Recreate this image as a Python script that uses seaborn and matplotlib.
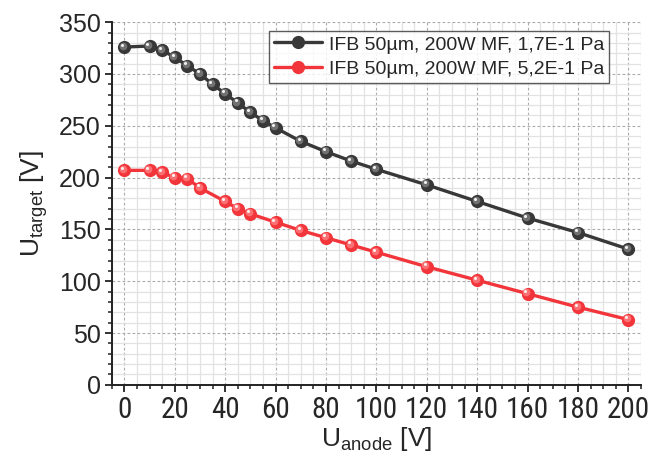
import numpy as np
import pandas as pd
import matplotlib
matplotlib.use("Agg")
import matplotlib.pyplot as plt
import matplotlib.transforms as mtransforms
from matplotlib import font_manager
from matplotlib.ticker import MultipleLocator
import seaborn as sns

# data
u_anode_a = [0, 10, 15, 20, 25, 30, 35, 40, 45, 50, 55, 60, 70, 80, 90, 100, 120, 140, 160, 180, 200]
u_target_a = [326, 327, 323, 316, 308, 300, 290, 281, 272, 263, 255, 248, 235, 225, 216, 208, 193, 177, 161, 147, 131]
u_anode_b = [0, 10, 15, 20, 25, 30, 40, 45, 50, 60, 70, 80, 90, 100, 120, 140, 160, 180, 200]
u_target_b = [207, 207, 205, 200, 199, 190, 177, 170, 165, 157, 149, 142, 135, 128, 114, 101, 88, 75, 63]
labels = ["IFB 50µm, 200W MF, 1,7E-1 Pa", "IFB 50µm, 200W MF, 5,2E-1 Pa"]
colors = ["#383838", "#f2353a"]
light = ["#8a8a8a", "#ff8a8c"]

sns.set_style("white")
plt.rcParams["font.family"] = ["Liberation Sans", "DejaVu Sans"]
plt.rcParams["mathtext.fontset"] = "custom"
plt.rcParams["mathtext.rm"] = "Liberation Sans"

# look for a narrow face for the x tick labels (Liberation Sans Narrow first)
names = sorted({f.name for f in font_manager.fontManager.ttflist})
narrow = None
for cand in ["Liberation Sans Narrow", "Roboto Condensed", "Open Sans Condensed"]:
    if cand in names:
        narrow = cand
        break
if narrow is None:
    for n in names:
        if "Narrow" in n or "Condensed" in n:
            narrow = n
            break

fig = plt.figure(figsize=(6.5, 4.62), dpi=100)
ax = fig.add_axes([0.172, 0.167, 0.814, 0.785])

series = [(u_anode_a, u_target_a), (u_anode_b, u_target_b)]
for (xs, ys), lab, c, lc in zip(series, labels, colors, light):
    df = pd.DataFrame({"x": xs, "y": ys})
    sns.lineplot(data=df, x="x", y="y", ax=ax, color=c, lw=2.4, marker="o",
                 markersize=9.5, markeredgewidth=0, label=lab, zorder=3)
    # fake sphere shading
    off1 = mtransforms.offset_copy(ax.transData, fig=fig, x=-1.0, y=1.0, units="points")
    ax.plot(xs, ys, ls="none", marker="o", ms=5.5, mew=0, color=lc, alpha=0.7,
            transform=off1, zorder=4)
    off2 = mtransforms.offset_copy(ax.transData, fig=fig, x=-1.6, y=1.8, units="points")
    ax.plot(xs, ys, ls="none", marker="o", ms=2.2, mew=0, color="white", alpha=0.9,
            transform=off2, zorder=5)

ax.set_xlim(-5, 205)
ax.set_ylim(0, 350)
ax.xaxis.set_major_locator(MultipleLocator(20))
ax.xaxis.set_minor_locator(MultipleLocator(5))
ax.yaxis.set_major_locator(MultipleLocator(50))
ax.yaxis.set_minor_locator(MultipleLocator(10))

ax.grid(which="minor", color="#e2e2e2", lw=0.9, ls="-", zorder=0)
ax.grid(which="major", color="#aaaaaa", lw=0.8, ls=(0, (2.5, 2)), zorder=1)
ax.set_axisbelow(True)

for s in ["top", "right"]:
    ax.spines[s].set_visible(False)
for s in ["left", "bottom"]:
    ax.spines[s].set_color("#222222")
    ax.spines[s].set_linewidth(1.4)

ax.tick_params(which="major", direction="out", length=5, width=1.3, color="#222222",
               labelsize=18, pad=3, bottom=True, left=True)
ax.tick_params(which="minor", direction="out", length=3, width=1.1, color="#222222",
               bottom=True, left=True)
if narrow:
    for t in ax.get_xticklabels():
        t.set_family([narrow, "Liberation Sans"])
        t.set_fontsize(21)

ax.set_xlabel(r"U$_{\mathregular{anode}}$ [V]", fontsize=19, labelpad=1)
ax.set_ylabel(r"U$_{\mathregular{target}}$ [V]", fontsize=19, labelpad=6)

leg = ax.legend(loc="upper right", bbox_to_anchor=(0.94, 0.977), fontsize=14,
                frameon=True, fancybox=False, handlelength=2.5, handletextpad=0.35,
                borderpad=0.25, labelspacing=0.32, borderaxespad=0, handleheight=0.8)
leg.get_frame().set_edgecolor("#333333")
leg.get_frame().set_linewidth(1.0)

fig.savefig("out.png", dpi=100)
